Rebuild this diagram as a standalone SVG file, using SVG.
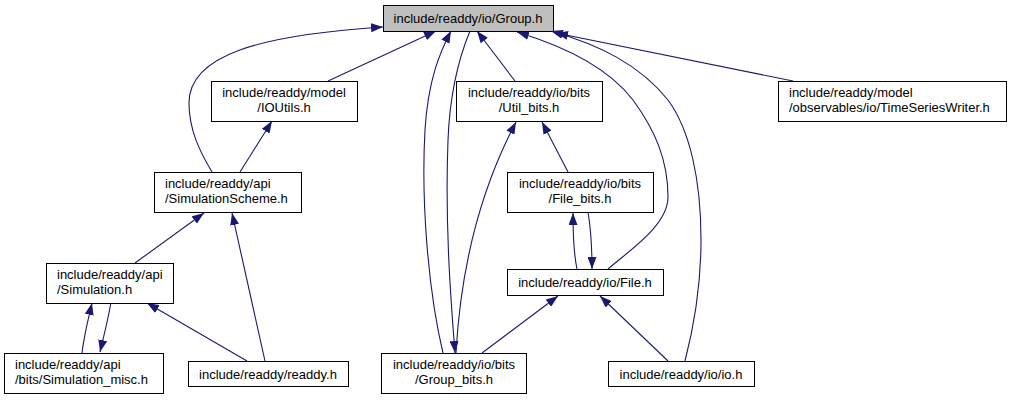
<svg xmlns="http://www.w3.org/2000/svg" width="1011" height="400" viewBox="0 0 1011 400">
<style>
.node rect{fill:#ffffff;stroke:#000000;stroke-width:1}
.node.root rect{fill:#bfbfbf}
.node text{font-family:"Liberation Sans",Arial,Helvetica,sans-serif;font-size:13px;fill:#000000}
.c{text-anchor:middle}
.l{text-anchor:start}
#edges path{fill:none;stroke:#191970;stroke-width:1.1;marker-end:url(#ah)}
</style>
<defs>
<marker id="ah" markerUnits="userSpaceOnUse" markerWidth="12" markerHeight="9" refX="12" refY="4.5" orient="auto">
<path d="M0,0 L12,4.5 L0,9 z" fill="#191970"/>
</marker>
</defs>
<rect width="1011" height="400" fill="#ffffff"/>
<g id="edges">
<path d="M212,172 C200,152 189,130 189,103 C189,55 260,35 383,27"/>
<path d="M328,81 L436,31"/>
<path d="M240,172 L272,121"/>
<path d="M443,353 C428,290 421,200 425,130 C428,80 440,52 451,31"/>
<path d="M470,31 C460,55 450,90 448,140 C445,220 450,290 455,353"/>
<path d="M456,353 C460,280 475,200 516,122"/>
<path d="M515,81 L477,31"/>
<path d="M568,172 L542,122"/>
<path d="M577,269 C574,255 573,240 573,213"/>
<path d="M588,212 C591,230 592,245 592,269"/>
<path d="M608,269 C630,250 668,225 668,197 C668,160 655,130 633,100 C610,70 570,48 517,32"/>
<path d="M685,361 C693,330 701,290 701,240 C701,180 690,130 668,100 C640,65 600,45 551,31"/>
<path d="M793,81 L556,33"/>
<path d="M668,361 L600,296"/>
<path d="M482,353 L558,296"/>
<path d="M135,263 L204,213"/>
<path d="M265,361 L232,213"/>
<path d="M247,361 L147,303"/>
<path d="M82,353 C84,335 88,320 92,303"/>
<path d="M111,302 C108,320 104,335 100,352"/>
</g>
<g id="n_group" class="node root"><rect x="383.5" y="5.5" width="170" height="26"/><text class="c" x="468" y="22.7">include/readdy/io/Group.h</text></g>
<g id="n_ioutils" class="node"><rect x="211.5" y="81.5" width="146" height="40"/><text class="c" x="284" y="96.5">include/readdy/model</text><text class="c" x="284" y="111.5">/IOUtils.h</text></g>
<g id="n_utilbits" class="node"><rect x="456.5" y="81.5" width="146" height="40"/><text class="c" x="529" y="96.5">include/readdy/io/bits</text><text class="c" x="529" y="111.5">/Util_bits.h</text></g>
<g id="n_tsw" class="node"><rect x="778.5" y="81.5" width="228" height="40"/><text class="l" x="789" y="96.5">include/readdy/model</text><text class="l" x="789" y="111.5">/observables/io/TimeSeriesWriter.h</text></g>
<g id="n_simscheme" class="node"><rect x="154.5" y="172.5" width="147" height="40"/><text class="l" x="165" y="187.5">include/readdy/api</text><text class="l" x="165" y="202.5">/SimulationScheme.h</text></g>
<g id="n_filebits" class="node"><rect x="507.5" y="172.5" width="146" height="40"/><text class="c" x="580" y="187.5">include/readdy/io/bits</text><text class="c" x="580" y="202.5">/File_bits.h</text></g>
<g id="n_simulation" class="node"><rect x="46.5" y="263.5" width="127" height="40"/><text class="l" x="57" y="278.5">include/readdy/api</text><text class="l" x="57" y="293.5">/Simulation.h</text></g>
<g id="n_file" class="node"><rect x="507.5" y="269.5" width="156" height="26"/><text class="c" x="585" y="287">include/readdy/io/File.h</text></g>
<g id="n_simmisc" class="node"><rect x="4.5" y="353.5" width="159" height="40"/><text class="l" x="15" y="368.5">include/readdy/api</text><text class="l" x="15" y="383.5">/bits/Simulation_misc.h</text></g>
<g id="n_readdy" class="node"><rect x="188.5" y="361.5" width="160" height="25"/><text class="c" x="268" y="378.5">include/readdy/readdy.h</text></g>
<g id="n_groupbits" class="node"><rect x="381.5" y="353.5" width="145" height="40"/><text class="c" x="454" y="368.5">include/readdy/io/bits</text><text class="c" x="454" y="383.5">/Group_bits.h</text></g>
<g id="n_io" class="node"><rect x="608.5" y="361.5" width="146" height="25"/><text class="c" x="681" y="378.5">include/readdy/io/io.h</text></g>
</svg>
